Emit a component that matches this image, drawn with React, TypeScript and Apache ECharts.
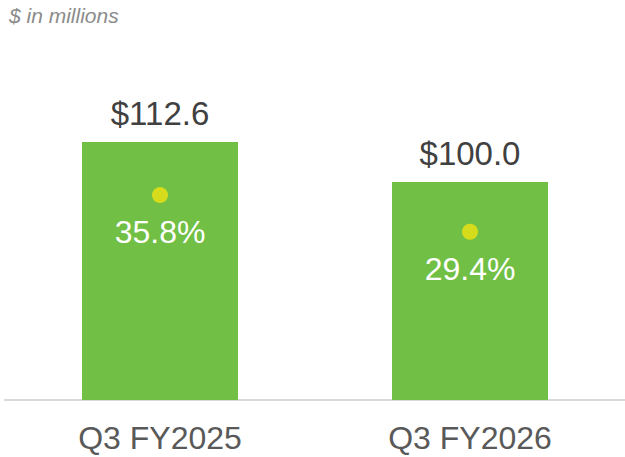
import React, { useEffect, useRef } from "react";
import * as echarts from "echarts";

const categories = ["Q3 FY2025", "Q3 FY2026"];
const revenue = [112.6, 100.0];
const margin = [35.8, 29.4];

export default function App() {
  const ref = useRef<HTMLDivElement>(null);
  useEffect(() => {
    if (!ref.current) return;
    const chart = echarts.init(ref.current, null, { renderer: "svg" });
    const font = "Arial, 'Liberation Sans', sans-serif";
    chart.setOption({
      animation: false,
      textStyle: { fontFamily: font },
      title: {
        text: "$ in millions",
        left: 4,
        top: 0,
        textStyle: { fontSize: 21, fontStyle: "italic", fontWeight: "normal", color: "#8c8c8c", fontFamily: font },
      },
      grid: { left: 5, right: 0, top: 40, bottom: 57, containLabel: false },
      xAxis: {
        type: "category",
        data: categories,
        axisLine: { show: true, lineStyle: { color: "#d9d9d9", width: 2 } },
        axisTick: { show: false },
        axisLabel: { fontSize: 32, color: "#595959", margin: 22, fontFamily: font },
      },
      yAxis: [
        { type: "value", min: 31.3, max: 144.7, show: false, splitLine: { show: false } },
        { type: "value", min: 0, max: 62.9, show: false, splitLine: { show: false } },
      ],
      series: [
        {
          type: "bar",
          data: revenue,
          yAxisIndex: 0,
          barWidth: 156,
          itemStyle: { color: "#71bf44" },
          label: {
            show: true,
            position: "top",
            distance: 12,
            fontSize: 33,
            color: "#404040",
            fontFamily: font,
            formatter: (p: any) => "$" + Number(p.value).toFixed(1),
          },
        },
        {
          type: "scatter",
          data: margin,
          yAxisIndex: 1,
          symbol: "circle",
          symbolSize: 16,
          itemStyle: { color: "#d6dc1c", opacity: 1 },
          label: {
            show: true,
            position: "bottom",
            distance: 13,
            fontSize: 32,
            color: "#ffffff",
            opacity: 1,
            fontFamily: font,
            formatter: (p: any) => Number(p.value).toFixed(1) + "%",
          },
        },
      ],
    });
    return () => chart.dispose();
  }, []);
  return <div ref={ref} style={{ width: 625, height: 457, position: "absolute", left: 0, top: 0 }} />;
}
